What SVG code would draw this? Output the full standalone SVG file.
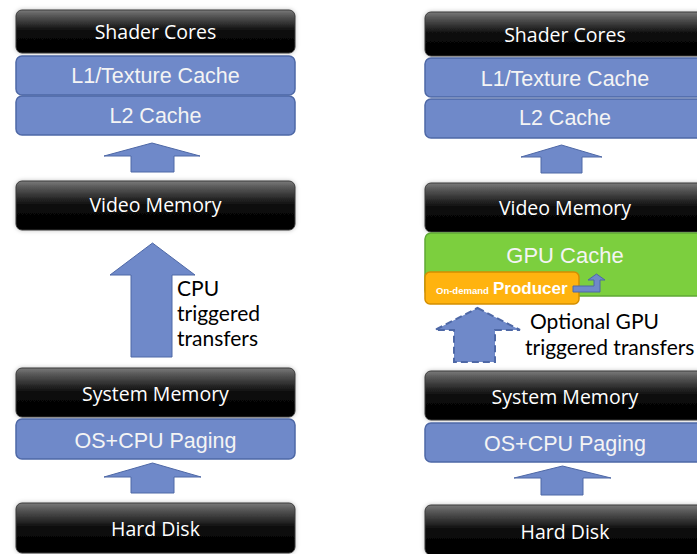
<svg xmlns="http://www.w3.org/2000/svg" width="697" height="554" viewBox="0 0 697 554">
<defs>
<linearGradient id="gBlack" x1="0" y1="0" x2="0" y2="1">
<stop offset="0" stop-color="#7a7a7a"/>
<stop offset="0.12" stop-color="#5a5a5a"/>
<stop offset="0.5" stop-color="#0a0a0a"/>
<stop offset="1" stop-color="#000"/>
</linearGradient>
<filter id="glow" x="-5%" y="-20%" width="110%" height="140%">
<feDropShadow dx="0" dy="0" stdDeviation="2" flood-color="#000" flood-opacity="0.25"/>
</filter>
</defs>
<style>
.blk{fill:url(#gBlack);stroke:#3a3a3a;stroke-width:1;filter:url(#glow)}
.blu{fill:#6f89c9;stroke:#4e68a6;stroke-width:1.5}
.grn{fill:#7ccf3e;stroke:#5fa935;stroke-width:1.5}
.org{fill:#ffb30f;stroke:#d38e00;stroke-width:1.5}
.arr{fill:#6f89c9;stroke:#4e68a6;stroke-width:1}
.dash{fill:#6f89c9;stroke:#4e68a6;stroke-width:2;stroke-dasharray:7 4}
.tb{font-family:"Open Sans","DejaVu Sans",sans-serif;font-size:19.5px;fill:#fff;text-anchor:middle}
.ta{font-family:"Liberation Sans",Arial,sans-serif;font-size:21.5px;fill:#f4f4f4;text-anchor:middle}
.tc{font-family:Lato,"Open Sans",sans-serif;font-size:21px;fill:#000}
</style>
<g id="left-shader"><rect class="blk" x="16" y="10" width="279" height="43" rx="6"/><text class="tb" x="155.5" y="39">Shader Cores</text></g>
<g id="left-l1"><rect class="blu" x="16" y="56" width="279" height="39" rx="6"/><text class="ta" x="155.5" y="83">L1/Texture Cache</text></g>
<g id="left-l2"><rect class="blu" x="16" y="96" width="279" height="39" rx="6"/><text class="ta" x="155.5" y="123">L2 Cache</text></g>
<g id="left-video"><rect class="blk" x="16" y="181" width="279" height="49" rx="6"/><text class="tb" x="155.5" y="212">Video Memory</text></g>
<g id="left-label"><text class="tc" x="177" y="296">CPU</text><text class="tc" x="177" y="321">triggered</text><text class="tc" x="177" y="346">transfers</text></g>
<g id="left-system"><rect class="blk" x="16" y="368" width="279" height="49" rx="6"/><text class="tb" x="155.5" y="401">System Memory</text></g>
<g id="left-paging"><rect class="blu" x="16" y="419" width="279" height="40" rx="6"/><text class="ta" x="155.5" y="448">OS+CPU Paging</text></g>
<g id="left-disk"><rect class="blk" x="16" y="503" width="279" height="50" rx="6"/><text class="tb" x="155.5" y="536">Hard Disk</text></g>

<g id="right-shader"><rect class="blk" x="425" y="12" width="280" height="44" rx="6"/><text class="tb" x="565" y="42">Shader Cores</text></g>
<g id="right-l1"><rect class="blu" x="425" y="58" width="280" height="39" rx="6"/><text class="ta" x="565" y="86">L1/Texture Cache</text></g>
<g id="right-l2"><rect class="blu" x="425" y="99" width="280" height="39" rx="6"/><text class="ta" x="565" y="125">L2 Cache</text></g>
<g id="right-video"><rect class="blk" x="425" y="183" width="280" height="49" rx="6"/><text class="tb" x="565" y="215">Video Memory</text></g>
<g id="right-gpucache"><rect class="grn" x="425" y="233" width="280" height="63" rx="6"/><text class="ta" x="565" y="263" style="font-size:22px">GPU Cache</text></g>
<g id="right-producer"><rect class="org" x="425" y="272" width="154" height="32" rx="5"/><text x="436" y="294" style="font-family:'Liberation Sans',Arial,sans-serif;font-weight:bold;font-size:9.5px;fill:#fff">On-demand</text><text x="493" y="294" style="font-family:'Liberation Sans',Arial,sans-serif;font-weight:bold;font-size:17px;fill:#fff">Producer</text></g>
<g id="right-label"><text class="tc" x="530" y="329">Optional GPU</text><text class="tc" x="525" y="355">triggered transfers</text></g>
<g id="right-system"><rect class="blk" x="425" y="371" width="280" height="49" rx="6"/><text class="tb" x="565" y="404">System Memory</text></g>
<g id="right-paging"><rect class="blu" x="425" y="423" width="280" height="39" rx="6"/><text class="ta" x="565" y="451">OS+CPU Paging</text></g>
<g id="right-disk"><rect class="blk" x="425" y="505" width="280" height="50" rx="6"/><text class="tb" x="565" y="539">Hard Disk</text></g>
<g id="connectors">
<polygon class="arr" points="152,143 200,156 174,156 174,172 131,172 131,156 104,156"/>
<polygon class="arr" points="152.5,243 195,275 172,275 172,357 131,357 131,275 110,275"/>
<polygon class="arr" points="152.5,463 201,477 174,477 174,493 131,493 131,477 104,477"/>
<polygon class="arr" points="561.5,145 602,157 582,157 582,173 541,173 541,157 521,157"/>
<polygon class="arr" points="562.5,466 611,478 583,478 583,495 541,495 541,478 514,478"/>
<polygon class="dash" points="477.5,308 520,330 495,330 495,362 454,362 454,330 435,330"/>
<polygon class="arr" points="573,286 594,286 594,280 588,280 596.5,274 605,280 600,280 600,292 573,292"/>
</g>
</svg>
